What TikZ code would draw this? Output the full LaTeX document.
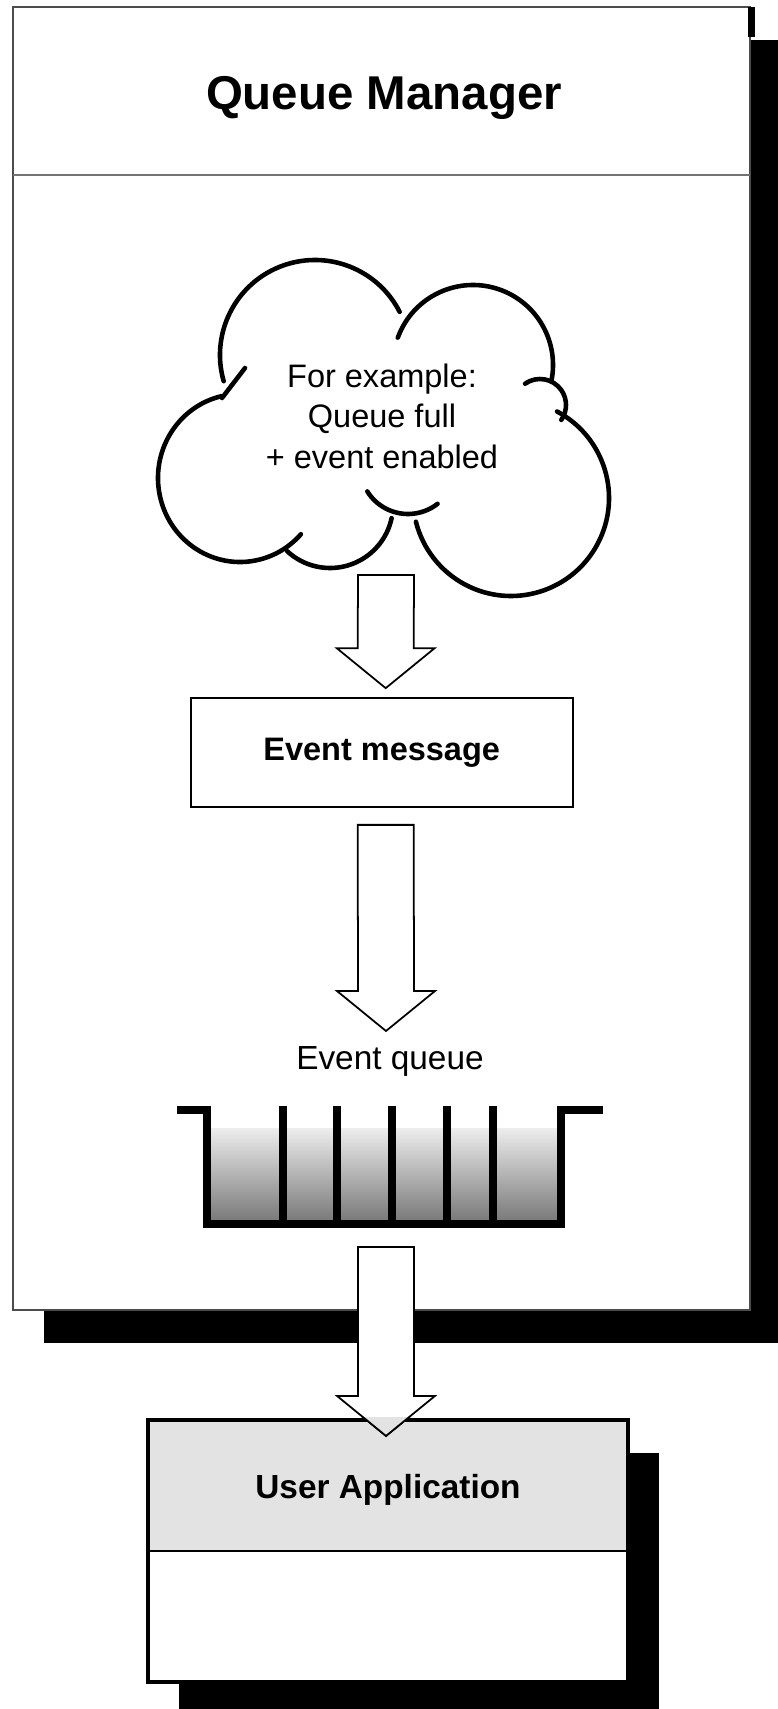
\documentclass[tikz,border=0pt]{standalone}
\usepackage{fontspec}
\setmainfont{Liberation Sans}
\usetikzlibrary{calc,shadows}

\tikzset{
  boxshadow/.style={drop shadow={opacity=1, fill=black, shadow xshift=0.62cm, shadow yshift=-0.66cm}},
  panel/.style={draw=black!70, line width=1pt, fill=white, boxshadow},
  appbox/.style={draw, line width=2.4pt, fill=white, boxshadow,
    path picture={\fill[appgray] (path picture bounding box.north west) rectangle (path picture bounding box.east);}},
  msgbox/.style={draw, line width=1pt, minimum width=7.64cm, minimum height=2.18cm,
    font=\fontsize{18.5}{22}\selectfont\bfseries},
  fatarr/.style={draw, fill=white, line width=1pt},
  cloudline/.style={line width=2.6pt, line cap=round},
  qwall/.style={line width=4.6pt},
  lbl/.style={font=\fontsize{18.5}{23}\selectfont, align=center},
  boldlbl/.style={font=\fontsize{19}{23}\selectfont\bfseries}
}
\colorlet{appgray}{black!11}

\newcommand{\fatarrow}[3][]{%
  \draw[fatarr,#1] ($(#2)+(-28,0)$) -- ($(#3)+(-28,-40)$) -- ($(#3)+(-49,-40)$) -- (#3)
    -- ($(#3)+(49,-40)$) -- ($(#3)+(28,-40)$) -- ($(#2)+(28,0)$) -- cycle;}

\begin{document}
\begin{tikzpicture}[x=0.02cm, y=-0.02cm]
\useasboundingbox (0,0) rectangle (777,1709);

\node[panel, minimum width=14.74cm, minimum height=26.06cm] (qm) at (381.5,658.5) {};
\fill (748,7) rectangle (755,37);
\draw[black!55, line width=1.4pt] (13,175) -- (750,175);
\node[font=\fontsize{27}{32}\selectfont\bfseries] (qmtitle) at (384,98) {Queue Manager};

\draw[cloudline] (315,355) ++(164:95) arc[start angle=164, end angle=333, radius=95];
\draw[cloudline] (473,365) ++(200:80) arc[start angle=200, end angle=372, radius=80];
\draw[cloudline] (540,405) ++(235:26) arc[start angle=235, end angle=395, radius=26];
\draw[cloudline] (511,498) ++(-62:98) arc[start angle=-62, end angle=166, radius=98];
\draw[cloudline] (408,466) ++(148:48) arc[start angle=148, end angle=52, radius=48];
\draw[cloudline] (330,505) ++(12:63) arc[start angle=12, end angle=133, radius=63];
\draw[cloudline] (240,478) ++(257:82 and 84) arc[start angle=257, end angle=42, x radius=82, y radius=84];
\draw[cloudline] (245,368) -- (222,398);
\node[lbl] (cloudtxt) at (382,416) {For example:\\Queue full\\+ event enabled};

\node[msgbox] (msg) at (381.7,752.5) {Event message};
\node[lbl, font=\fontsize{19}{23}\selectfont] (qlabel) at (390,1061) {Event queue};

\shade[top color=black!7, bottom color=black!52] (207,1128) rectangle (561,1220);
\draw[qwall] (177,1110) -- (207,1110) -- (207,1224) -- (561,1224) -- (561,1110) -- (603,1110);
\foreach \x in {283,337,392,447,493}
  \draw[qwall] (\x,1106) -- (\x,1224);

\node[appbox, minimum width=9.6cm, minimum height=5.24cm] (app) at (388,1551) {};
\draw[line width=1pt] (app.west) -- (app.east);
\node[boldlbl] (apptxt) at (388,1490) {User Application};

\coordinate (a1s) at (386,575);
\coordinate (a1e) at ($(msg.north)+(4,-9)$);
\coordinate (a2s) at ($(msg.south)+(4,17)$);
\coordinate (a2e) at (386,1031);
\coordinate (a3s) at (386,1247);
\coordinate (a3e) at ($(app.north)+(-2,18)$);
\fatarrow{a1s}{a1e}
\fatarrow{a2s}{a2e}
\fatarrow{a3s}{a3e}
\begin{scope}
  \clip (app.north west) rectangle (app.east);
  \fatarrow[fill=appgray]{a3s}{a3e}
\end{scope}

\end{tikzpicture}
\end{document}
